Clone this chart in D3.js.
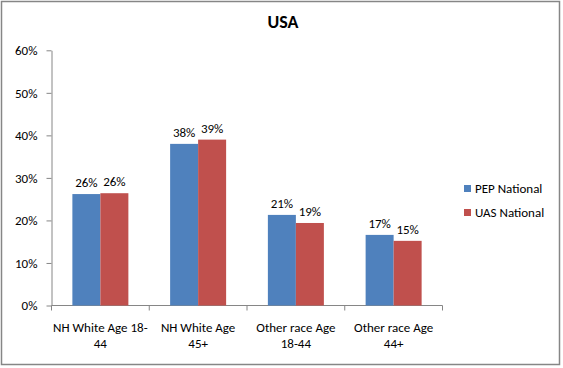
<!DOCTYPE html>
<html><head><meta charset="utf-8">
<script src="https://cdn.jsdelivr.net/npm/d3@7"></script>
<style>body{margin:0;background:#fff}svg{display:block}text{font-family:Carlito,Lato,"Open Sans",sans-serif;fill:#000}</style>
</head><body><svg id="c" width="563" height="368"></svg>
<script>
const categories = [["NH White Age 18-","44"],["NH White Age","45+"],["Other race Age","18-44"],["Other race Age","44+"]];
const seriesNames = ["PEP National","UAS National"];
const pep = [0.262, 0.380, 0.213, 0.166];
const uas = [0.264, 0.390, 0.194, 0.152];
const pepLabels = ["26%","38%","21%","17%"];
const uasLabels = ["26%","39%","19%","15%"];
const yTicks = [0,0.1,0.2,0.3,0.4,0.5,0.6];
const colors = ["#4F81BD","#C0504D"];

(function(){
const svg = d3.select("#c");
svg.append("rect").attr("x",1.5).attr("y",1.5).attr("width",558).attr("height",363)
  .attr("fill","#fff").attr("stroke","#868686").attr("stroke-width",1.5);
svg.append("text").attr("x",283).attr("y",28).attr("text-anchor","middle")
  .style("font-size","18px").style("font-weight","bold").text("USA");

const pl=51.5, pr=442.5, pt=50.3, pb=305.5;
const x = d3.scaleBand().domain(d3.range(categories.length)).range([pl,pr]).paddingInner(0).paddingOuter(0);
const y = d3.scaleLinear().domain([0,0.6]).range([pb,pt]);
const bw = 28;
const gap = (x.bandwidth()-2*bw)/2;

const ya = svg.append("g").attr("transform",`translate(${pl},0)`)
  .call(d3.axisLeft(y).tickValues(yTicks).tickFormat(d3.format(".0%")).tickSize(5).tickSizeOuter(0));
ya.select(".domain").attr("stroke","#868686");
ya.selectAll(".tick line").attr("stroke","#868686");
ya.selectAll(".tick text").attr("x",-14).style("font-size","13px").style("font-family","Carlito,Lato,'Open Sans',sans-serif").attr("fill","#000");

const xa = svg.append("g").attr("transform",`translate(0,${pb})`);
xa.append("line").attr("x1",pl).attr("x2",pr).attr("stroke","#868686");
const bounds = d3.range(categories.length+1).map(i=> i<categories.length ? x(i) : x(categories.length-1)+x.bandwidth());
xa.selectAll("line.t").data(bounds).join("line").attr("class","t")
  .attr("x1",d=>d).attr("x2",d=>d).attr("y1",0).attr("y2",5).attr("stroke","#868686");

const series=[pep,uas], labels=[pepLabels,uasLabels];
series.forEach((s,si)=>{
  svg.append("g").selectAll("rect").data(s).join("rect")
    .attr("x",(d,i)=>x(i)+gap+si*bw).attr("width",bw)
    .attr("y",d=>y(d)).attr("height",d=>pb-y(d)).attr("fill",colors[si]);
  svg.append("g").selectAll("text").data(s).join("text")
    .attr("x",(d,i)=>x(i)+gap+si*bw+bw/2).attr("y",d=>y(d)-7)
    .attr("text-anchor","middle").style("font-size","13px").text((d,i)=>labels[si][i]);
});

categories.forEach((c,i)=>{
  const t = svg.append("text").attr("x",x(i)+x.bandwidth()/2).attr("y",332).attr("text-anchor","middle").style("font-size","13px");
  c.forEach((line,li)=>t.append("tspan").attr("x",x(i)+x.bandwidth()/2).attr("dy",li?16:0).text(line));
});

seriesNames.forEach((n,i)=>{
  const g = svg.append("g").attr("transform",`translate(464,${185+i*24})`);
  g.append("rect").attr("width",7).attr("height",7).attr("fill",colors[i]);
  g.append("text").attr("x",11).attr("y",8).style("font-size","13px").text(n);
});
})();
</script></body></html>
